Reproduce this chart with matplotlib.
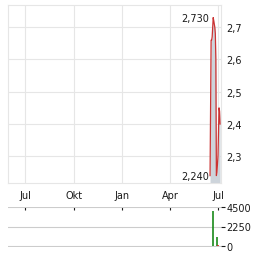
import matplotlib
matplotlib.use("Agg")
import matplotlib.pyplot as plt
import matplotlib.dates as mdates
import matplotlib.ticker as mticker
import numpy as np
import pandas as pd

# ---- data ----
price_dates = ["2024-06-15", "2024-06-17", "2024-06-18", "2024-06-19", "2024-06-20",
               "2024-06-21", "2024-06-22", "2024-06-24", "2024-06-25", "2024-06-26",
               "2024-06-27", "2024-06-28", "2024-06-30", "2024-07-02", "2024-07-03",
               "2024-07-04"]
price_values = [2.24, 2.66, 2.66, 2.67, 2.70, 2.73, 2.72, 2.70, 2.68, 2.60,
                2.24, 2.25, 2.30, 2.45, 2.44, 2.40]
vol_dates = ["2024-06-20", "2024-06-28", "2024-06-30"]
vol_values = [4000, 1000, 150]
vol_colors = ["#1a8a1a", "#1a8a1a", "#cc2222"]
max_label = "2,730"
min_label = "2,240"
month_ticks = ["2023-07-01", "2023-10-01", "2024-01-01", "2024-04-01", "2024-07-01"]
month_labels = ["Jul", "Okt", "Jan", "Apr", "Jul"]
price_ticks = [2.3, 2.4, 2.5, 2.6, 2.7]
vol_ticks = [0, 2250, 4500]

pd_dates = pd.to_datetime(price_dates)
vd = pd.to_datetime(vol_dates)
mt = pd.to_datetime(month_ticks)
xmin = pd.Timestamp("2023-05-29")
xmax = pd.Timestamp("2024-07-05 18:00")

W, H = 264, 255
fig = plt.figure(figsize=(W / 100, H / 100), dpi=100)
fig.patch.set_facecolor("white")

def fx(px):
    return px / W

def fy(py):
    return 1 - py / H

txt = "#1a1a1a"
grid_c = "#e6e6e6"

# ---- main price axis ----
ax = fig.add_axes([fx(8), fy(184), fx(221) - fx(8), fy(6) - fy(184)])
ax.set_xlim(xmin, xmax)
ax.set_ylim(2.217, 2.769)
ax.fill_between(pd_dates, price_values, 2.217, color="#cdd4db", linewidth=0)
ax.plot(pd_dates, price_values, color="#cc3333", linewidth=0.9)
ax.set_xticks(mt)
ax.set_xticklabels(month_labels)
ax.set_yticks(price_ticks)
ax.yaxis.set_major_formatter(mticker.FuncFormatter(lambda v, p: f"{v:.1f}".replace(".", ",")))
ax.yaxis.tick_right()
ax.tick_params(axis="y", length=0, pad=4, labelsize=7, labelcolor=txt)
ax.tick_params(axis="x", length=0, pad=5, labelsize=7, labelcolor=txt)
ax.grid(True, color=grid_c, linewidth=0.8)
ax.set_axisbelow(True)
for s in ax.spines.values():
    s.set_color(grid_c)
    s.set_linewidth(0.8)

imax = int(np.argmax(price_values))
imin = int(np.argmin(price_values))
ax.annotate(max_label, xy=(pd_dates[imax], price_values[imax]), xytext=(-3, 0),
            textcoords="offset points", ha="right", va="center", fontsize=7, color=txt)
ax.annotate(min_label, xy=(pd_dates[0], price_values[imin]), xytext=(-1, 0),
            textcoords="offset points", ha="right", va="center", fontsize=7, color=txt)

# ---- volume axis ----
av = fig.add_axes([fx(8), fy(247.5), fx(221) - fx(8), fy(207.5) - fy(247.5)])
av.set_xlim(xmin, xmax)
av.set_ylim(-56, 4556)
av.vlines(vd, 0, vol_values, colors=vol_colors, linewidth=1.2)
av.set_yticks(vol_ticks)
av.yaxis.tick_right()
av.tick_params(axis="y", length=3, width=0.8, pad=1, labelsize=7, labelcolor=txt, color=txt)
av.set_xticks(mt)
av.xaxis.tick_top()
av.tick_params(axis="x", direction="in", length=2.5, width=0.8, color=txt, labeltop=False, labelbottom=False, pad=0)
av.grid(True, axis="y", color="#cccccc", linewidth=0.8)
av.set_axisbelow(True)
for s in av.spines.values():
    s.set_visible(False)

fig.savefig("out.png", dpi=100)
